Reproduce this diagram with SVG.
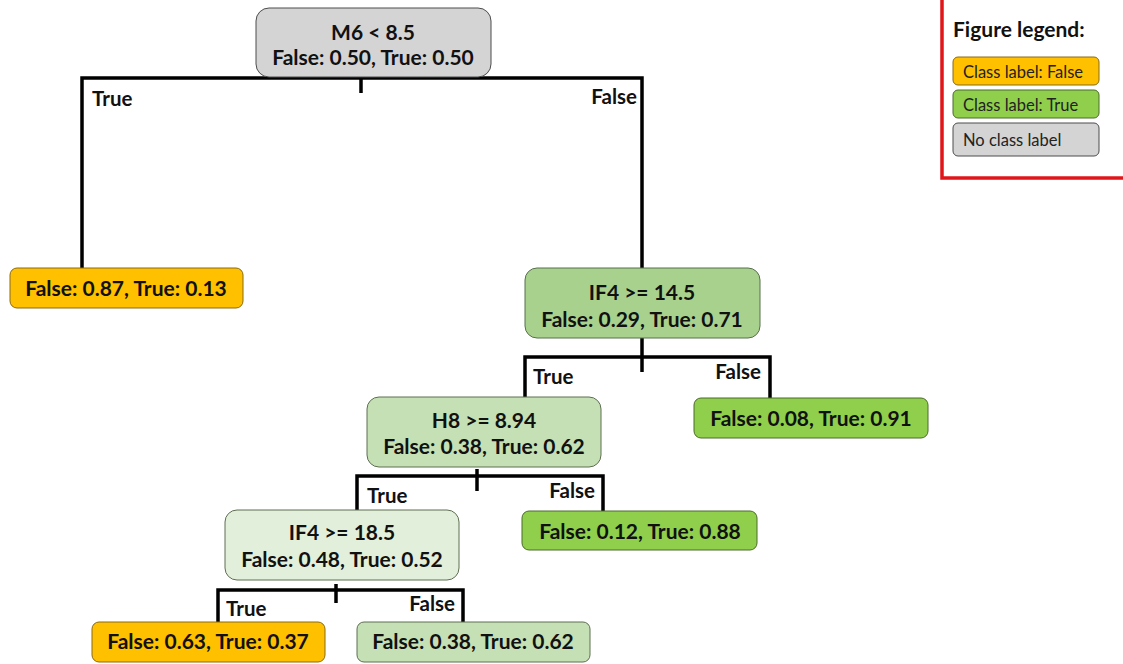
<svg xmlns="http://www.w3.org/2000/svg" width="1123" height="664" viewBox="0 0 1123 664">
  <style>
    .node { stroke: #4d4d4d; stroke-width: 1; }
    .gray { fill: #d4d4d4; }
    .orange { fill: #ffc000; stroke: #8a6a10; }
    .green { fill: #8fcf4c; stroke: #4d6b2a; }
    .light { fill: #c5e0b4; stroke: #5e6e52; }
    .mid { fill: #a9d18e; stroke: #56704a; }
    .pale { fill: #e2efda; stroke: #5e6e52; }
    .t { font-family: Lato, "Liberation Sans", sans-serif; font-weight: bold; font-size: 21px; fill: #111; text-anchor: middle; }
    .lbl { font-family: Lato, "Liberation Sans", sans-serif; font-weight: bold; font-size: 20.5px; fill: #111; }
    .lg { font-family: Lato, "Liberation Sans", sans-serif; font-size: 16.5px; fill: #222; }
    .edge { stroke: #000; stroke-width: 3.5; fill: none; }
  </style>

  <!-- connectors -->
  <g id="connectors">
    <path class="edge" d="M82 268 V78 H642 V268"/>
    <path class="edge" d="M361 78 V93"/>
    <path class="edge" d="M642 338 V372"/>
    <path class="edge" d="M525 400 V357 H770 V398"/>
    <path class="edge" d="M357 513 V476 H603 V511"/>
    <path class="edge" d="M477 469 V491"/>
    <path class="edge" d="M218 623 V590 H463 V622"/>
    <path class="edge" d="M336 584 V603"/>
    <text class="lbl" x="92" y="106">True</text>
    <text class="lbl" x="637" y="104" text-anchor="end">False</text>
    <text class="lbl" x="533" y="384">True</text>
    <text class="lbl" x="761" y="379" text-anchor="end">False</text>
    <text class="lbl" x="367" y="503">True</text>
    <text class="lbl" x="595" y="498" text-anchor="end">False</text>
    <text class="lbl" x="226" y="616">True</text>
    <text class="lbl" x="455" y="611" text-anchor="end">False</text>
  </g>

  <g id="root">
    <rect class="node gray" x="256" y="8" width="235" height="69" rx="13"/>
    <text class="t" x="373" y="40">M6 &lt; 8.5</text>
    <text class="t" x="373" y="65">False: 0.50, True: 0.50</text>
  </g>

  <g id="leaf-left">
    <rect class="node orange" x="10" y="268" width="233" height="40" rx="7"/>
    <text class="t" x="126" y="296">False: 0.87, True: 0.13</text>
  </g>

  <g id="if4-14">
    <rect class="node mid" x="525" y="268" width="235" height="70" rx="12"/>
    <text class="t" x="642" y="300">IF4 &gt;= 14.5</text>
    <text class="t" x="642" y="327">False: 0.29, True: 0.71</text>
  </g>

  <g id="leaf-091">
    <rect class="node green" x="694" y="398" width="234" height="40" rx="7"/>
    <text class="t" x="811" y="426">False: 0.08, True: 0.91</text>
  </g>

  <g id="h8">
    <rect class="node light" x="367" y="397" width="234" height="70" rx="12"/>
    <text class="t" x="484" y="428">H8 &gt;= 8.94</text>
    <text class="t" x="484" y="454">False: 0.38, True: 0.62</text>
  </g>

  <g id="leaf-088">
    <rect class="node green" x="522" y="511" width="235" height="39" rx="7"/>
    <text class="t" x="640" y="539">False: 0.12, True: 0.88</text>
  </g>

  <g id="if4-18">
    <rect class="node pale" x="225" y="510" width="234" height="70" rx="12"/>
    <text class="t" x="342" y="540">IF4 &gt;= 18.5</text>
    <text class="t" x="342" y="567">False: 0.48, True: 0.52</text>
  </g>

  <g id="leaf-037">
    <rect class="node orange" x="92" y="622" width="233" height="40" rx="7"/>
    <text class="t" x="208" y="649">False: 0.63, True: 0.37</text>
  </g>

  <g id="leaf-062">
    <rect class="node light" x="357" y="622" width="233" height="40" rx="7"/>
    <text class="t" x="473" y="649">False: 0.38, True: 0.62</text>
  </g>

  <g id="legend">
    <rect x="942" y="-5" width="190" height="183" fill="#fff" stroke="#e0161b" stroke-width="3.5"/>
    <text x="953" y="37" font-family="Lato, 'Liberation Sans', sans-serif" font-weight="bold" font-size="21" fill="#111">Figure legend:</text>
    <rect class="node orange" x="953" y="57" width="146" height="28" rx="5"/>
    <text class="lg" x="963" y="78">Class label: False</text>
    <rect class="node green" x="953" y="90" width="146" height="28" rx="5"/>
    <text class="lg" x="963" y="111">Class label: True</text>
    <rect class="node gray" x="953" y="123" width="146" height="33" rx="5"/>
    <text class="lg" x="963" y="146">No class label</text>
  </g>
</svg>
